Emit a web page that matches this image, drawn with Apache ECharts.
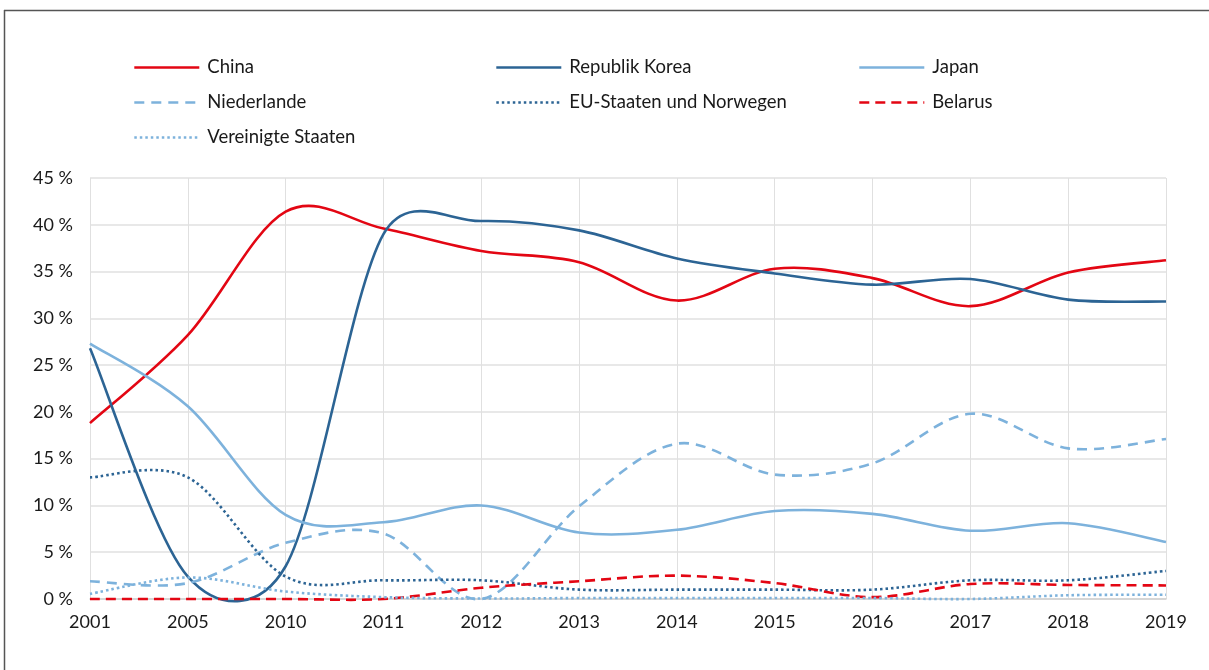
<!DOCTYPE html>
<html>
<head>
<meta charset="utf-8">
<script src="https://cdn.jsdelivr.net/npm/echarts@6/dist/echarts.min.js"></script>
<style>
html,body{margin:0;padding:0;background:#fff;}
#chart{width:1209px;height:670px;}
</style>
</head>
<body>
<div id="chart"></div>
<script>
const years = ['2001','2005','2010','2011','2012','2013','2014','2015','2016','2017','2018','2019'];
const china        = [18.8, 28.2, 41.4, 39.6, 37.2, 36.0, 31.9, 35.3, 34.3, 31.3, 34.9, 36.2];
const korea        = [26.8, 2.4, 3.5, 39.0, 40.4, 39.4, 36.4, 34.8, 33.6, 34.2, 32.0, 31.8];
const japan        = [27.3, 20.6, 9.0, 8.2, 10.0, 7.1, 7.4, 9.4, 9.1, 7.3, 8.1, 6.1];
const niederlande  = [1.9, 1.7, 6.0, 7.0, 0.0, 9.9, 16.6, 13.3, 14.5, 19.8, 16.1, 17.1];
const euNorwegen   = [13.0, 13.0, 2.4, 2.0, 2.0, 1.0, 1.0, 1.0, 1.0, 2.0, 2.0, 3.0];
const belarus      = [0.0, 0.0, 0.0, 0.0, 1.2, 1.9, 2.5, 1.7, 0.2, 1.6, 1.5, 1.45];
const usa          = [0.55, 2.3, 0.8, 0.2, 0.05, 0.1, 0.1, 0.1, 0.1, 0.0, 0.4, 0.45];
const yTicks = [0, 5, 10, 15, 20, 25, 30, 35, 40, 45];

const RED = '#E30613';
const DARK = '#2C6494';
const LIGHT = '#7DB2DC';
const FONT = 'Lato';

const seriesDefs = [
  {name: 'China', data: china, color: RED, dash: null},
  {name: 'Republik Korea', data: korea, color: DARK, dash: null},
  {name: 'Japan', data: japan, color: LIGHT, dash: null},
  {name: 'Niederlande', data: niederlande, color: LIGHT, dash: [10, 7]},
  {name: 'EU-Staaten und Norwegen', data: euNorwegen, color: DARK, dash: [2.5, 3]},
  {name: 'Belarus', data: belarus, color: RED, dash: [10, 6]},
  {name: 'Vereinigte Staaten', data: usa, color: LIGHT, dash: [2.5, 3]}
];
const LW = 2.6;

function dist(a, b) { return Math.sqrt((a[0]-b[0])*(a[0]-b[0]) + (a[1]-b[1])*(a[1]-b[1])); }

// Excel-style smoothed path through the points given by the axes
function smoothPath(pts) {
  let d = 'M' + pts[0][0] + ',' + pts[0][1];
  for (let i = 0; i < pts.length - 1; i++) {
    const p1 = pts[i], p2 = pts[i + 1];
    const p0 = i > 0 ? pts[i - 1] : p1;
    const p3 = i + 2 < pts.length ? pts[i + 2] : p2;
    const d12 = dist(p1, p2), d02 = dist(p0, p2), d13 = dist(p1, p3);
    let f1 = 1 / 6, f2 = 1 / 6;
    if (d02 / 6 > d12 / 2 && d02 > 0) f1 = d12 / 2 / d02;
    if (d13 / 6 > d12 / 2 && d13 > 0) f2 = d12 / 2 / d13;
    const c1 = [p1[0] + (p2[0] - p0[0]) * f1, p1[1] + (p2[1] - p0[1]) * f1];
    const c2 = [p2[0] - (p3[0] - p1[0]) * f2, p2[1] - (p3[1] - p1[1]) * f2];
    d += ' C' + c1[0] + ',' + c1[1] + ' ' + c2[0] + ',' + c2[1] + ' ' + p2[0] + ',' + p2[1];
  }
  return d;
}

const series = [];
// legend carriers (line series, no data drawn)
seriesDefs.forEach(function (s) {
  series.push({
    name: s.name, type: 'line', data: [], symbol: 'none', showSymbol: false,
    itemStyle: {color: s.color},
    lineStyle: {color: s.color, width: LW, type: s.dash ? s.dash : 'solid'}
  });
});
// curves
seriesDefs.forEach(function (s, si) {
  series.push({
    name: s.name + ' (Kurve)', type: 'custom', z: 3 + si,
    data: s.data.map(function (v, i) { return [i, v]; }),
    encode: {x: 0, y: 1},
    renderItem: function (params, api) {
      if (params.dataIndex !== 0) return null;
      const pts = s.data.map(function (v, i) { return api.coord([i, v]); });
      return {
        type: 'path',
        shape: {pathData: smoothPath(pts)},
        style: {fill: 'none', stroke: s.color, lineWidth: LW, lineDash: s.dash || null, lineCap: 'butt', lineJoin: 'round'}
      };
    },
    silent: true
  });
});

const chart = echarts.init(document.getElementById('chart'), null, {renderer: 'canvas'});
const legendBase = {
  orient: 'vertical', itemWidth: 65, itemHeight: 14, itemGap: 16,
  itemStyle: {opacity: 0, color: 'transparent', borderWidth: 0},
  lineStyle: {width: LW},
  textStyle: {fontFamily: FONT, fontSize: 18.5, color: '#1a1a1a', padding: [0, 0, 0, 3]},
  selectedMode: false
};
chart.setOption({
  animation: false,
  backgroundColor: '#fff',
  textStyle: {fontFamily: FONT},
  graphic: [
    {type: 'line', shape: {x1: 4, y1: 10.5, x2: 1209, y2: 10.5}, style: {stroke: '#555', lineWidth: 1.5}},
    {type: 'line', shape: {x1: 4.5, y1: 10, x2: 4.5, y2: 670}, style: {stroke: '#555', lineWidth: 1.5}}
  ],
  legend: [
    Object.assign({}, legendBase, {left: 128, top: 53, data: ['China', 'Niederlande', 'Vereinigte Staaten']}),
    Object.assign({}, legendBase, {left: 490, top: 53, data: ['Republik Korea', 'EU-Staaten und Norwegen']}),
    Object.assign({}, legendBase, {left: 853, top: 53, data: ['Japan', 'Belarus']})
  ],
  grid: {left: 90, right: 43, top: 178, bottom: 71, containLabel: false},
  xAxis: {
    type: 'category', data: years, boundaryGap: false,
    axisLine: {show: true, lineStyle: {color: '#d0d0d0', width: 1.5}},
    axisTick: {show: false},
    axisLabel: {interval: 0, fontFamily: FONT, fontSize: 18, color: '#1a1a1a', margin: 14},
    splitLine: {show: true, interval: 0, lineStyle: {color: '#e0e0e0', width: 1}}
  },
  yAxis: {
    type: 'value', min: 0, max: 45, interval: 5,
    axisLine: {show: false}, axisTick: {show: false},
    axisLabel: {fontFamily: FONT, fontSize: 18, color: '#1a1a1a', margin: 17,
      formatter: function (v) { return yTicks.indexOf(v) >= 0 ? v + ' %' : ''; }},
    splitLine: {show: true, lineStyle: {color: '#e0e0e0', width: 1.5}}
  },
  series: series
});
</script>
</body>
</html>
